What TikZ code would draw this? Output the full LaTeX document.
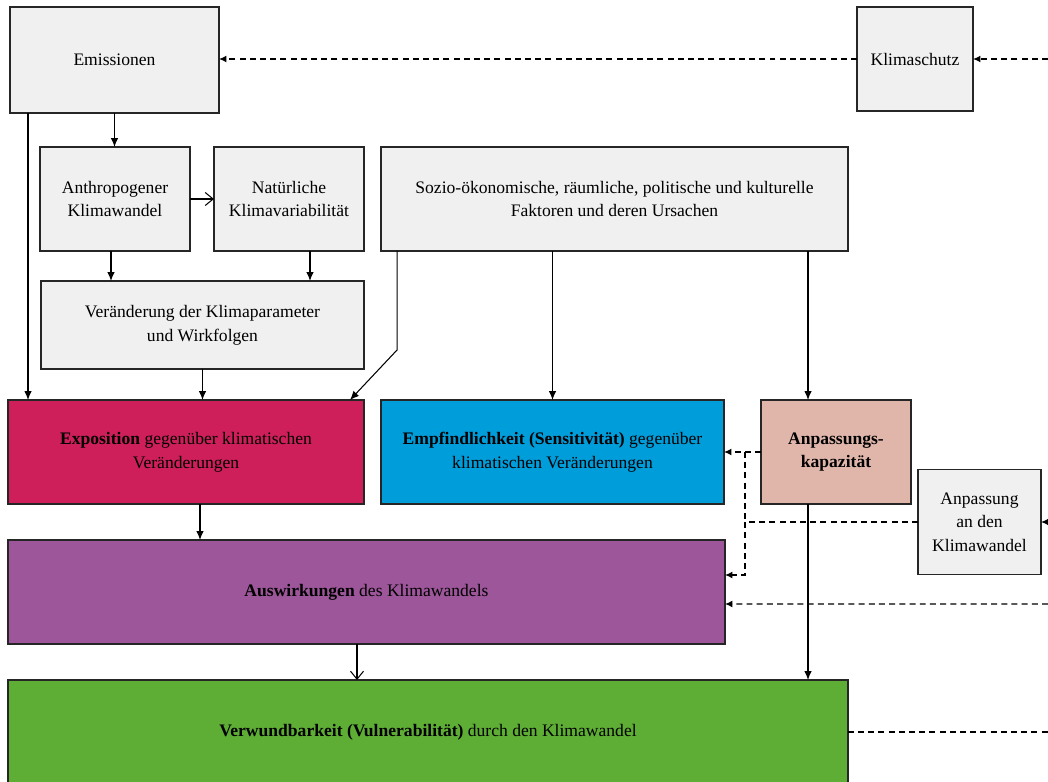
\documentclass[tikz,border=0pt]{standalone}
\usepackage{fontspec}
\setmainfont{Liberation Serif}
\usepackage{xcolor}
\usepackage{tikz}
\usetikzlibrary{positioning,arrows.meta,calc}
\definecolor{boxgrey}{HTML}{EFF0EF}
\definecolor{expocol}{HTML}{CE1F5B}
\definecolor{empfcol}{HTML}{009DDB}
\definecolor{kapcol}{HTML}{E0B6AA}
\definecolor{auswcol}{HTML}{9C5699}
\definecolor{verwcol}{HTML}{5EAD35}
\tikzset{
box/.style={
draw=black!85,
line width=0.8pt,
minimum height=2.08cm,
inner sep=2pt,
outer sep=0pt,
align=center,
fill=boxgrey,
font=\fontsize{10}{13.5}\selectfont
},
arrow/.style={
-{Latex[length=1.8mm,width=1.5mm]},
line width=0.6pt
},
openarrow/.style={
-{Straight Barb[length=1.6mm,width=2.6mm]},
line width=0.6pt
},
dasharrow/.style={
-{Latex[length=1.5mm,width=1.4mm]},
dash pattern=on 3.4pt off 2.4pt,
line width=0.8pt
},
dashline/.style={
dash pattern=on 3.4pt off 2.4pt,
line width=0.8pt
}
}

\begin{document}
\begin{tikzpicture}[x=0.02cm,y=-0.02cm]
\useasboundingbox (0,0) rectangle (1048,781);

\node[box,minimum width=4.18cm,minimum height=2.12cm](emis) at (114.5,60){Emissionen};
\node[box,minimum width=2.32cm](klima) at (915,59){Klimaschutz};
\node[box,minimum width=3cm](anthro) at (115,199){Anthropogener\\Klimawandel};
\node[box,minimum width=3cm](nat) at (289,199){Natürliche\\Klimavariabilität};
\node[box,minimum width=6.46cm,minimum height=1.76cm](ver) at (202.5,325){Veränderung der Klimaparameter\\und Wirkfolgen};
\node[box,minimum width=9.34cm](sozio) at (614.5,199){Sozio-ökonomische, räumliche, politische und kulturelle\\Faktoren und deren Ursachen};
\node[box,minimum width=7.12cm,fill=expocol](expo) at (186,452){\textbf{Exposition} gegenüber klimatischen\\Veränderungen};
\node[box,minimum width=6.86cm,fill=empfcol](empf) at (552.5,452){\textbf{Empfindlichkeit (Sensitivität)} gegenüber\\klimatischen Veränderungen};
\node[box,minimum width=3cm,fill=kapcol](kap) at (836,452){\textbf{Anpassungs-}\\\textbf{kapazität}};
\node[box,minimum width=2.46cm,minimum height=2.1cm](anp) at (979.5,522){Anpassung\\an den\\Klimawandel};
\node[box,minimum width=14.34cm,fill=auswcol](ausw) at (366.5,592){\textbf{Auswirkungen} des Klimawandels};
\node[box,minimum width=16.8cm,fill=verwcol](verw) at (428,732){\textbf{Verwundbarkeit (Vulnerabilität)} durch den Klimawandel};

\coordinate (edgeklima) at (1048,59);
\coordinate (edgeanp) at (1048,522);
\coordinate (edgeausw) at (1048,604);
\coordinate (edgeverw) at (1048,732);
\coordinate (junc) at (745,522);

% solid connectors
\draw[arrow](emis.south)--(emis.south|-anthro.north);
\draw[arrow]([xshift=0.36cm]emis.south west)--([xshift=0.36cm]emis.south west|-expo.north);
\draw[openarrow](anthro)--(nat);
\draw[arrow]([xshift=-0.08cm]anthro.south)--([xshift=-0.08cm]anthro.south|-ver.north);
\draw[arrow]([xshift=0.42cm]nat.south)--([xshift=0.42cm]nat.south|-ver.north);
\draw[arrow](ver.south)--(ver.south|-expo.north);
\draw[arrow]([xshift=0.32cm]sozio.south west)--++(0,99)--([xshift=-0.28cm]expo.north east);
\draw[arrow](empf.north|-sozio.south)--(empf.north);
\draw[arrow]([xshift=-0.56cm]kap.north|-sozio.south)--([xshift=-0.56cm]kap.north);
\draw[arrow]([xshift=0.28cm]expo.south)--([xshift=0.28cm]expo.south|-ausw.north);
\draw[openarrow]([xshift=-0.19cm]ausw.south)--([xshift=-0.19cm]ausw.south|-verw.north);
\draw[arrow]([xshift=-0.56cm]kap.south)--([xshift=-0.56cm]kap.south|-verw.north);

% dashed connectors
\draw[dasharrow](klima.west)--(klima.west-|emis.east);
\draw[dasharrow](edgeklima)--(klima.east);
\draw[dasharrow](kap.west)--(kap.west-|empf.east);
\draw[dashline](kap.west-|junc)--(junc);
\draw[dasharrow](anp.west)--(junc)|-([yshift=0.34cm]ausw.east);
\draw[dasharrow](edgeanp)--(anp.east);
\draw[dasharrow](edgeausw)--([yshift=-0.24cm]ausw.east);
\draw[dashline](verw.east|-edgeverw)--(edgeverw);
\end{tikzpicture}
\end{document}
